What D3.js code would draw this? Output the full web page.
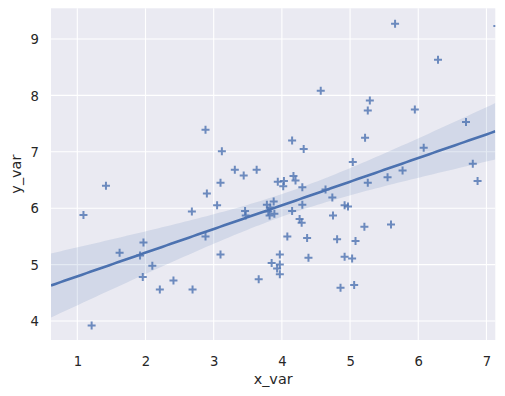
<!DOCTYPE html>
<html>
<head>
<meta charset="utf-8">
<script src="https://cdn.jsdelivr.net/npm/d3@7"></script>
<style>
  html, body { margin: 0; padding: 0; background: #ffffff; }
  svg { display: block; }
  text { font-family: "DejaVu Sans", sans-serif; fill: #262626; }
</style>
</head>
<body>
<svg id="chart" width="505" height="396"></svg>
<script>
// ---- data ----
const xVar = [1.09, 1.21, 1.42, 1.62, 1.92, 1.97, 1.96, 2.10, 2.21, 2.41,
              2.69, 2.68, 2.88, 2.90, 2.88, 3.05, 3.10, 3.12, 3.10, 3.31,
              3.44, 3.46, 3.47, 3.63, 3.66, 3.78, 3.88, 3.83, 3.80, 3.89,
              3.82, 3.94, 4.03, 4.02, 4.17, 4.20, 4.30, 4.15, 4.32, 4.57,
              4.15, 4.30, 4.26, 4.29, 4.08, 4.37, 3.97, 3.85, 3.97, 3.93,
              3.97, 4.39, 4.64, 4.74, 4.75, 4.81, 4.92, 4.97, 4.92, 5.03,
              4.86, 5.06, 5.08, 5.21, 5.60, 5.26, 5.55, 5.77, 5.04, 5.22,
              5.26, 5.29, 5.95, 6.08, 6.29, 5.66, 6.70, 6.80, 6.87, 7.16];
const yVar = [5.88, 3.92, 6.40, 5.21, 5.16, 5.39, 4.78, 4.98, 4.56, 4.72,
              4.56, 5.94, 7.39, 6.26, 5.50, 6.05, 6.45, 7.01, 5.18, 6.68,
              6.58, 5.95, 5.87, 6.68, 4.74, 6.06, 6.12, 6.01, 5.94, 5.90,
              5.87, 6.47, 6.48, 6.39, 6.57, 6.49, 6.37, 7.20, 7.05, 8.08,
              5.95, 6.06, 5.81, 5.74, 5.50, 5.47, 5.18, 5.03, 5.00, 4.93,
              4.83, 5.12, 6.33, 6.19, 5.87, 5.45, 6.05, 6.03, 5.14, 5.11,
              4.59, 4.64, 5.42, 5.67, 5.71, 6.45, 6.55, 6.67, 6.82, 7.25,
              7.73, 7.91, 7.75, 7.07, 8.63, 9.27, 7.53, 6.79, 6.48, 9.23];
const xTicks = [1, 2, 3, 4, 5, 6, 7];
const yTicks = [4, 5, 6, 7, 8, 9];
const xLabel = "x_var";
const yLabel = "y_var";

// ---- layout ----
const svg = d3.select("#chart");
const L = 51, R = 495.3, T = 8.3, B = 340;
const x = d3.scaleLinear().domain([0.614, 7.13]).range([L, R]);
const y = d3.scaleLinear().domain([3.663, 9.544]).range([B, T]);
const blue = "#4C72B0";

svg.append("defs").append("clipPath").attr("id", "clip")
  .append("rect").attr("x", L).attr("y", T).attr("width", R - L).attr("height", B - T);

svg.append("rect").attr("x", L).attr("y", T).attr("width", R - L).attr("height", B - T)
  .attr("fill", "#EAEAF2");

// grid
const grid = svg.append("g");
grid.selectAll(".gx").data(xTicks).join("line")
  .attr("x1", d => x(d)).attr("x2", d => x(d)).attr("y1", T).attr("y2", B)
  .attr("stroke", "#fff").attr("stroke-width", 1.1);
grid.selectAll(".gy").data(yTicks).join("line")
  .attr("y1", d => y(d)).attr("y2", d => y(d)).attr("x1", L).attr("x2", R)
  .attr("stroke", "#fff").attr("stroke-width", 1.1);

// ---- regression (OLS) with 95% CI ----
const n = xVar.length;
const mx = d3.mean(xVar), my = d3.mean(yVar);
let sxx = 0, sxy = 0;
for (let i = 0; i < n; i++) { sxx += (xVar[i] - mx) ** 2; sxy += (xVar[i] - mx) * (yVar[i] - my); }
const slope = sxy / sxx, icpt = my - slope * mx;
let sse = 0;
for (let i = 0; i < n; i++) sse += (yVar[i] - (icpt + slope * xVar[i])) ** 2;
const s = Math.sqrt(sse / (n - 2));
const tval = 1.991;
const grid100 = d3.range(0, 101).map(i => x.domain()[0] + (x.domain()[1] - x.domain()[0]) * i / 100);
const fit = grid100.map(v => {
  const yh = icpt + slope * v;
  const hw = tval * s * Math.sqrt(1 / n + (v - mx) ** 2 / sxx);
  return { x: v, y: yh, lo: yh - hw, hi: yh + hw };
});

const plot = svg.append("g").attr("clip-path", "url(#clip)");

// scatter
plot.append("g").selectAll("path").data(xVar.map((v, i) => [v, yVar[i]])).join("path")
  .attr("d", d => `M${x(d[0]) - 4},${y(d[1])}H${x(d[0]) + 4}M${x(d[0])},${y(d[1]) - 4}V${y(d[1]) + 4}`)
  .attr("stroke", blue).attr("stroke-width", 2).attr("stroke-opacity", 0.8).attr("fill", "none");

plot.append("path").datum(fit)
  .attr("d", d3.area().x(d => x(d.x)).y0(d => y(d.lo)).y1(d => y(d.hi)))
  .attr("fill", blue).attr("fill-opacity", 0.15);

plot.append("path").datum(fit)
  .attr("d", d3.line().x(d => x(d.x)).y(d => y(d.y)))
  .attr("stroke", blue).attr("stroke-width", 2.6).attr("fill", "none");

// ---- axes ----
const xAxis = svg.append("g").attr("transform", `translate(0,${B})`)
  .call(d3.axisBottom(x).tickValues(xTicks).tickSize(0).tickPadding(0).tickFormat(d3.format("d")));
xAxis.select(".domain").remove();
xAxis.selectAll("text").attr("dy", null).attr("y", 25.5).style("font-size", "13.2px")
  .style("font-family", "'DejaVu Sans', sans-serif").attr("fill", "#262626");

const yAxis = svg.append("g").attr("transform", `translate(${L},0)`)
  .call(d3.axisLeft(y).tickValues(yTicks).tickSize(0).tickPadding(0).tickFormat(d3.format("d")));
yAxis.select(".domain").remove();
yAxis.selectAll("text").attr("x", -12).attr("dy", "0.36em").style("font-size", "13.2px")
  .style("font-family", "'DejaVu Sans', sans-serif").attr("fill", "#262626");

svg.append("text").attr("x", (L + R) / 2).attr("y", 384).attr("text-anchor", "middle")
  .style("font-size", "14.4px").text(xLabel);
svg.append("text").attr("transform", `translate(21,${(T + B) / 2}) rotate(-90)`)
  .attr("text-anchor", "middle").style("font-size", "14.4px").text(yLabel);
</script>
</body>
</html>
